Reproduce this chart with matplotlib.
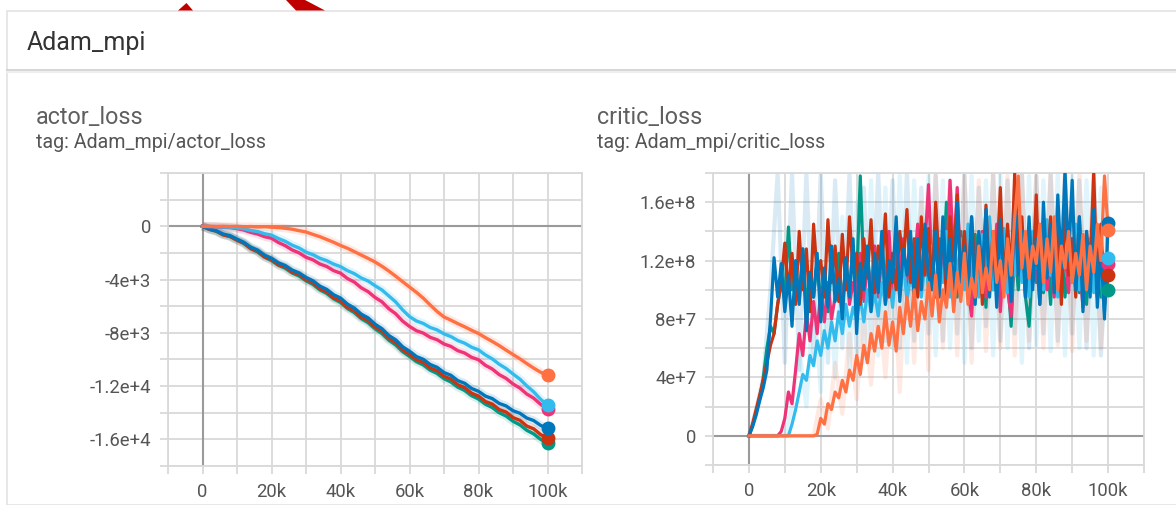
import matplotlib
matplotlib.use("Agg")
import matplotlib.pyplot as plt
from matplotlib.patches import Rectangle, Polygon
from matplotlib.lines import Line2D

plt.rcParams['font.family'] = ['Roboto', 'DejaVu Sans']

W, H = 1176, 505

# ---------------- data ----------------
# actor_loss, one value every 2k steps
actor_steps = list(range(0, 100001, 2000))
actor_orange = [0, 0, -15, 0, -25, -10, -35, -20, -50, -35,
                -70, -100, -150, -220, -330, -430, -610, -780, -990, -1200,
                -1440, -1650, -1900, -2160, -2410, -2680, -3000, -3360, -3750, -4160,
                -4560, -4960, -5400, -5910, -6400, -6810, -7050, -7310, -7550, -7810,
                -8050, -8360, -8650, -8960, -9300, -9630, -9950, -10310, -10650, -10960,
                -11180]
actor_lightblue = [0, -20, -25, -60, -70, -125, -190, -320, -400, -560,
                   -660, -920, -1130, -1420, -1630, -1940, -2130, -2400, -2580, -2840,
                   -3030, -3330, -3560, -3880, -4110, -4460, -4780, -5230, -5680, -6280,
                   -6780, -7110, -7300, -7600, -7780, -8080, -8280, -8580, -8780, -9080,
                   -9280, -9660, -9960, -10360, -10680, -11090, -11480, -11990, -12430, -12990,
                   -13430]
actor_pink = [0, -25, -35, -80, -100, -175, -285, -460, -585, -780,
              -900, -1220, -1460, -1780, -2000, -2330, -2520, -2830, -3020, -3330,
              -3520, -3920, -4190, -4620, -4910, -5340, -5670, -6190, -6570, -7120,
              -7520, -7840, -8020, -8340, -8520, -8840, -9020, -9340, -9520, -9840,
              -10020, -10440, -10720, -11140, -11420, -11840, -12150, -12600, -12910, -13370,
              -13730]
actor_blue = [0, -200, -340, -580, -700, -960, -1200, -1570, -1790, -2170,
              -2400, -2740, -2950, -3290, -3500, -3840, -4090, -4490, -4740, -5140,
              -5390, -5840, -6140, -6600, -6880, -7350, -7690, -8200, -8530, -9050,
              -9380, -9780, -9990, -10380, -10590, -10980, -11190, -11590, -11790, -12180,
              -12390, -12750, -12940, -13300, -13490, -13850, -14040, -14400, -14590, -14950,
              -15180]
actor_red = [0, -240, -360, -650, -760, -1050, -1260, -1680, -1880, -2300,
             -2500, -2890, -3060, -3450, -3620, -4010, -4240, -4690, -4920, -5370,
             -5600, -6080, -6340, -6820, -7080, -7560, -7880, -8420, -8740, -9280,
             -9600, -10020, -10220, -10640, -10840, -11260, -11470, -11900, -12110, -12540,
             -12750, -13160, -13350, -13760, -13950, -14360, -14570, -15000, -15210, -15640,
             -15900]
actor_teal = [0, -220, -380, -630, -780, -1030, -1300, -1680, -1930, -2320,
              -2570, -2930, -3150, -3510, -3730, -4090, -4360, -4770, -5040, -5450,
              -5720, -6170, -6480, -6930, -7240, -7690, -8050, -8550, -8910, -9410,
              -9770, -10160, -10410, -10800, -11050, -11440, -11690, -12080, -12330, -12720,
              -12970, -13360, -13610, -14000, -14250, -14640, -14910, -15320, -15590, -16000,
              -16300]

# critic_loss, in millions, one value every 1k steps
critic_steps = list(range(0, 100001, 1000))
critic_blue = [0, 6, 14, 24, 33, 45, 80, 122, 95, 118,
               85, 110, 75, 120, 90, 128, 72, 112, 95, 125,
               78, 115, 88, 130, 92, 108, 80, 122, 95, 135,
               70, 118, 100, 130, 85, 125, 98, 140, 90, 120,
               105, 150, 92, 128, 110, 140, 95, 135, 100, 145,
               110, 100, 140, 95, 150, 108, 135, 92, 160, 105,
               130, 98, 150, 90, 140, 112, 155, 95, 135, 88,
               148, 105, 130, 92, 158, 110, 140, 95, 150, 100,
               135, 90, 160, 108, 145, 98, 165, 115, 182, 120,
               175, 100, 150, 85, 140, 95, 155, 88, 130, 80,
               146]
critic_orange = [0, 0, 0, 0, 0, 0, 0, 0, 0, 0,
                 0, 0, 0, 0, 0, 0, 0, 0, 0, 1,
                 12, 8, 22, 18, 30, 26, 38, 30, 45, 38,
                 55, 42, 62, 50, 70, 58, 75, 60, 85, 62,
                 78, 58, 88, 70, 95, 75, 100, 72, 92, 80,
                 105, 82, 110, 78, 100, 88, 118, 85, 112, 92,
                 125, 90, 108, 95, 130, 98, 115, 100, 140, 105,
                 120, 95, 135, 110, 150, 178, 115, 140, 108, 130,
                 118, 145, 105, 135, 112, 150, 100, 130, 115, 140,
                 105, 125, 110, 138, 100, 130, 112, 145, 120, 178,
                 141]
critic_red = [0, 8, 18, 28, 38, 50, 62, 70, 90, 105,
              132, 98, 125, 90, 140, 100, 128, 85, 145, 110,
              120, 95, 148, 105, 130, 92, 138, 100, 150, 112,
              125, 90, 135, 108, 148, 98, 130, 115, 152, 95,
              125, 100, 140, 118, 155, 105, 135, 95, 150, 110,
              142, 100, 160, 115, 138, 95, 150, 120, 165, 105,
              140, 98, 150, 112, 135, 90, 158, 105, 140, 118,
              170, 100, 145, 110, 180, 125, 150, 98, 140, 108,
              165, 95, 135, 115, 150, 100, 140, 90, 160, 110,
              135, 95, 150, 105, 140, 115, 180, 100, 145, 90,
              110]
critic_teal = [0, 7, 16, 26, 40, 60, 75, 70, 90, 105,
               95, 143, 100, 115, 92, 128, 88, 110, 95, 120,
               90, 112, 85, 118, 100, 125, 90, 115, 98, 130,
               105, 178, 110, 125, 95, 120, 100, 135, 92, 118,
               105, 140, 98, 120, 108, 130, 95, 125, 102, 140,
               100, 125, 95, 135, 110, 160, 100, 130, 95, 140,
               108, 125, 92, 138, 105, 130, 88, 145, 100, 128,
               95, 135, 110, 75, 130, 100, 140, 95, 75, 120,
               105, 135, 98, 125, 90, 140, 102, 130, 95, 120,
               108, 135, 98, 125, 90, 130, 100, 120, 95, 115,
               100]
critic_pink = [0, 0, 0, 0, 0, 0, 0, 0, 0, 3,
               12, 30, 22, 45, 70, 55, 85, 65, 92, 70,
               100, 78, 105, 80, 95, 110, 85, 120, 90, 105,
               95, 125, 92, 118, 100, 130, 95, 122, 105, 140,
               98, 125, 110, 135, 100, 128, 115, 145, 105, 130,
               172, 110, 135, 100, 128, 115, 175, 120, 170, 105,
               130, 100, 82, 125, 110, 140, 95, 130, 105, 145,
               85, 125, 100, 82, 135, 110, 140, 95, 130, 105,
               125, 90, 135, 100, 120, 95, 140, 105, 125, 98,
               135, 100, 120, 88, 130, 105, 125, 95, 130, 110,
               118]
critic_lightblue = [0, 0, 0, 0, 0, 0, 0, 0, 0, 0,
                    0, 0, 8, 18, 30, 42, 38, 55, 48, 65,
                    55, 72, 60, 78, 65, 85, 70, 90, 75, 88,
                    80, 95, 78, 100, 85, 98, 82, 105, 90, 110,
                    88, 115, 95, 120, 92, 110, 100, 125, 95, 118,
                    105, 130, 98, 122, 105, 140, 95, 128, 110, 135,
                    100, 145, 108, 125, 95, 138, 112, 150, 100, 130,
                    115, 142, 98, 128, 110, 150, 105, 135, 95, 140,
                    115, 130, 100, 148, 110, 125, 95, 140, 115, 130,
                    105, 145, 100, 125, 112, 135, 98, 128, 110, 85,
                    122]

# raw (unsmoothed) critic values, every 2k steps, drawn faint
raw_steps = list(range(0, 100001, 2000))
raw_blue = [0, 18, 40, 100, 180, 50, 180, 45, 180, 55,
            180, 50, 175, 60, 180, 55, 170, 60, 180, 65,
            175, 60, 180, 65, 170, 70, 180, 65, 175, 70,
            180, 60, 170, 75, 180, 65, 175, 70, 180, 60,
            178, 70, 180, 65, 180, 70, 175, 60, 180, 55,
            146]
raw_orange = [0, 0, 0, 0, 0, 0, 0, 0, 0, 0,
              25, 5, 50, 15, 70, 25, 85, 35, 100, 40,
              120, 30, 140, 50, 160, 45, 178, 60, 170, 55,
              178, 50, 175, 58, 180, 60, 178, 55, 180, 65,
              178, 60, 180, 62, 178, 58, 180, 65, 178, 60,
              150]
raw_lightblue = [0, 0, 0, 0, 0, 0, 20, 60, 20, 100,
                 30, 130, 40, 150, 45, 160, 50, 175, 55, 170,
                 60, 178, 50, 175, 60, 178, 55, 175, 60, 170,
                 50, 178, 65, 175, 55, 180, 60, 170, 50, 178,
                 62, 175, 58, 180, 55, 178, 60, 175, 55, 170,
                 122]

x_ticks = [0, 20000, 40000, 60000, 80000, 100000]
x_ticklabels = ["0", "20k", "40k", "60k", "80k", "100k"]
actor_yticks = [-16000, -12000, -8000, -4000, 0]
actor_yticklabels = ["-1.6e+4", "-1.2e+4", "-8e+3", "-4e+3", "0"]
critic_yticks = [0, 4e7, 8e7, 1.2e8, 1.6e8]
critic_yticklabels = ["0", "4e+7", "8e+7", "1.2e+8", "1.6e+8"]

C_BLUE, C_ORANGE, C_RED = "#0077bb", "#ff7043", "#cc3311"
C_LBLUE, C_PINK, C_TEAL = "#33bbee", "#ee3377", "#009988"

GRID = "#d9d9d9"
AXIS0 = "#9a9a9a"
TICKC = "#555555"


def px(x, y):
    return x / W, 1 - y / H


fig = plt.figure(figsize=(W / 100, H / 100), dpi=100)
fig.patch.set_facecolor("white")

# card + header
fig.patches.append(Rectangle(px(7, 505), 1.0, (505 - 11) / H, transform=fig.transFigure,
                             facecolor="white", edgecolor="#e3e3e3", lw=1.2, zorder=-5))
fig.lines.append(Line2D([7 / W, 1], [1 - 70 / H] * 2, transform=fig.transFigure,
                        color="#cfcfcf", lw=1.2, zorder=-4))
fig.lines.append(Line2D([7 / W, 1], [1 - 71.5 / H] * 2, transform=fig.transFigure,
                        color="#eeeeee", lw=1.5, zorder=-4))

# red annotation marks at top edge of screenshot
fig.patches.append(Polygon([px(178, 10.5), px(186.5, 3), px(193, 10.5)], closed=True,
                           transform=fig.transFigure, facecolor="#c00000", edgecolor="none"))
fig.patches.append(Polygon([px(286, 0), px(305, 0), px(325, 10.5), px(296, 10.5)], closed=True,
                           transform=fig.transFigure, facecolor="#c00000", edgecolor="none"))

fig.text(27 / W, 1 - 43 / H, "Adam_mpi", fontsize=18, color="#333333", va="center", ha="left")
fig.text(36 / W, 1 - 118 / H, "actor_loss", fontsize=16.8, color="#5f5f5f", va="center", ha="left")
fig.text(36 / W, 1 - 143 / H, "tag: Adam_mpi/actor_loss", fontsize=14.1, color="#555555",
         va="center", ha="left")
fig.text(597 / W, 1 - 118 / H, "critic_loss", fontsize=16.8, color="#5f5f5f", va="center", ha="left")
fig.text(597 / W, 1 - 143 / H, "tag: Adam_mpi/critic_loss", fontsize=14.1, color="#555555",
         va="center", ha="left")


def style_axes(ax, ylim, yticks, yticklabels, yminor):
    ax.set_xlim(-10000, 110000)
    ax.set_ylim(*ylim)
    ax.set_xticks(x_ticks)
    ax.set_xticklabels(x_ticklabels)
    ax.set_xticks([-10000, 10000, 30000, 50000, 70000, 90000, 110000], minor=True)
    ax.set_yticks(yticks)
    ax.set_yticklabels(yticklabels)
    ax.set_yticks(yminor, minor=True)
    ax.grid(True, which="both", color=GRID, lw=1.3, zorder=0)
    ax.set_axisbelow(True)
    for s in ax.spines.values():
        s.set_color(GRID)
        s.set_linewidth(1.3)
    ax.tick_params(which="both", length=6, width=1.3, color=GRID, labelsize=13.3,
                   labelcolor=TICKC, pad=6)
    ax.axhline(0, color=AXIS0, lw=1.5, zorder=1)
    ax.axvline(0, color=AXIS0, lw=1.5, zorder=1)
    ax.set_facecolor("white")


# ---- actor_loss ----
ax1 = fig.add_axes([168 / W, 39 / H, 414 / W, 293 / H])
style_axes(ax1, (-18000, 4000), actor_yticks, actor_yticklabels,
           [-18000, -14000, -10000, -6000, -2000, 2000, 4000])
actor_series = [(actor_teal, C_TEAL), (actor_red, C_RED), (actor_blue, C_BLUE),
                (actor_pink, C_PINK), (actor_lightblue, C_LBLUE), (actor_orange, C_ORANGE)]
for vals, col in actor_series:
    ax1.plot(actor_steps, vals, color=col, lw=6, alpha=0.15, zorder=2, solid_capstyle="butt")
for vals, col in actor_series:
    ax1.plot(actor_steps, vals, color=col, lw=2.4, zorder=3)
    ax1.plot(actor_steps[-1], vals[-1], "o", color=col, ms=9, zorder=4)

# ---- critic_loss ----
ax2 = fig.add_axes([713 / W, 40 / H, 431 / W, 292 / H])
style_axes(ax2, (-2e7, 1.8e8), critic_yticks, critic_yticklabels,
           [-2e7, 2e7, 6e7, 1e8, 1.4e8, 1.8e8])
M = 1e6
for vals, col in [(raw_blue, C_BLUE), (raw_lightblue, C_LBLUE), (raw_orange, C_ORANGE)]:
    ax2.plot(raw_steps, [v * M for v in vals], color=col, lw=3, alpha=0.15, zorder=2)
critic_series = [(critic_teal, C_TEAL), (critic_pink, C_PINK), (critic_lightblue, C_LBLUE),
                 (critic_red, C_RED), (critic_blue, C_BLUE), (critic_orange, C_ORANGE)]
for vals, col in critic_series:
    ax2.plot(critic_steps, [v * M for v in vals], color=col, lw=2.3, zorder=3)
for vals, col in critic_series:
    ax2.plot(critic_steps[-1], vals[-1] * M, "o", color=col, ms=9, zorder=4)

fig.savefig("out.png", dpi=100, facecolor="white")
